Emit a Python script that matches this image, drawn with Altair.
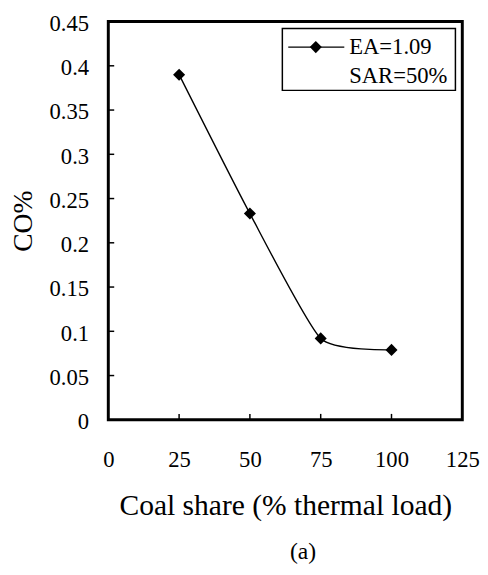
import altair as alt
import pandas as pd

# data
coal_share = [25, 50, 75, 100]
co_pct = [0.390, 0.233, 0.092, 0.079]
x_ticks = [0, 25, 50, 75, 100, 125]
y_ticks = [0, 0.05, 0.1, 0.15, 0.2, 0.25, 0.3, 0.35, 0.4, 0.45]
legend_lines = ["EA=1.09", "SAR=50%"]
caption = "(a)"

FONT = "Liberation Serif"
W, H = 360, 405

df = pd.DataFrame({"x": coal_share, "y": co_pct})
xt = pd.DataFrame({"v": x_ticks[1:-1]})
yt = pd.DataFrame({"v": y_ticks[1:-1]})
one = pd.DataFrame({"a": [0]})

xscale = alt.Scale(domain=[0, 125], nice=False, zero=False)
yscale = alt.Scale(domain=[0, 0.45], nice=False)

xaxis = alt.Axis(values=x_ticks, ticks=False, domain=False, grid=False,
                 labelFont=FONT, labelFontSize=23, labelColor="black",
                 labelPadding=30, labelFlush=False,
                 title="Coal share (% thermal load)", titleFont=FONT,
                 titleFontSize=30, titleFontWeight="normal", titleColor="black",
                 titlePadding=19)
yaxis = alt.Axis(values=y_ticks, ticks=False, domain=False, grid=False,
                 format=".2~f",
                 labelFont=FONT, labelFontSize=23, labelColor="black",
                 labelPadding=20, labelFlush=False, labelOffset=2,
                 title="CO%", titleFont=FONT, titleFontSize=28,
                 titleFontWeight="normal", titleColor="black", titlePadding=12)

line = alt.Chart(df).mark_line(interpolate="cardinal", tension=0.45, color="black",
                               strokeWidth=1.4).encode(
    x=alt.X("x:Q", scale=xscale, axis=xaxis),
    y=alt.Y("y:Q", scale=yscale, axis=yaxis),
)
pts = alt.Chart(df).mark_point(shape="diamond", filled=True, size=150,
                               color="black", opacity=1).encode(
    x=alt.X("x:Q", scale=xscale), y=alt.Y("y:Q", scale=yscale))

xtick = alt.Chart(xt).mark_rule(color="black", strokeWidth=1.5).encode(
    x=alt.X("v:Q", scale=xscale), y=alt.value(H), y2=alt.value(H - 6))
ytick = alt.Chart(yt).mark_rule(color="black", strokeWidth=1.5).encode(
    y=alt.Y("v:Q", scale=yscale), x=alt.value(0), x2=alt.value(6))

# legend drawn by hand
lbox = alt.Chart(one).mark_rect(fill="white", stroke="black", strokeWidth=1.5).encode(
    x=alt.value(177), x2=alt.value(353), y=alt.value(7), y2=alt.value(70))
lline = alt.Chart(one).mark_rule(color="black", strokeWidth=1.4).encode(
    x=alt.value(183), x2=alt.value(240), y=alt.value(26))
lpt = alt.Chart(one).mark_point(shape="diamond", filled=True, size=150,
                                color="black", opacity=1).encode(
    x=alt.value(211), y=alt.value(26))
ltxt1 = alt.Chart(one).mark_text(text=legend_lines[0], font=FONT, fontSize=23,
                                 align="left", baseline="middle", color="black").encode(
    x=alt.value(245), y=alt.value(26))
ltxt2 = alt.Chart(one).mark_text(text=legend_lines[1], font=FONT, fontSize=23,
                                 align="left", baseline="middle", color="black").encode(
    x=alt.value(245), y=alt.value(55))
cap = alt.Chart(one).mark_text(text=caption, font=FONT, fontSize=24,
                               align="center", baseline="middle", color="black").encode(
    x=alt.value(198), y=alt.value(540))

chart = alt.layer(xtick, ytick, line, pts, lbox, lline, lpt, ltxt1, ltxt2, cap).properties(
    width=W, height=H,
    autosize=alt.AutoSizeParams(type="none"),
    padding={"left": 102, "top": 9, "right": 18, "bottom": 150},
).configure_view(stroke="black", strokeWidth=3)

chart.save("out.html", embed_options={"renderer": "svg", "actions": False})
